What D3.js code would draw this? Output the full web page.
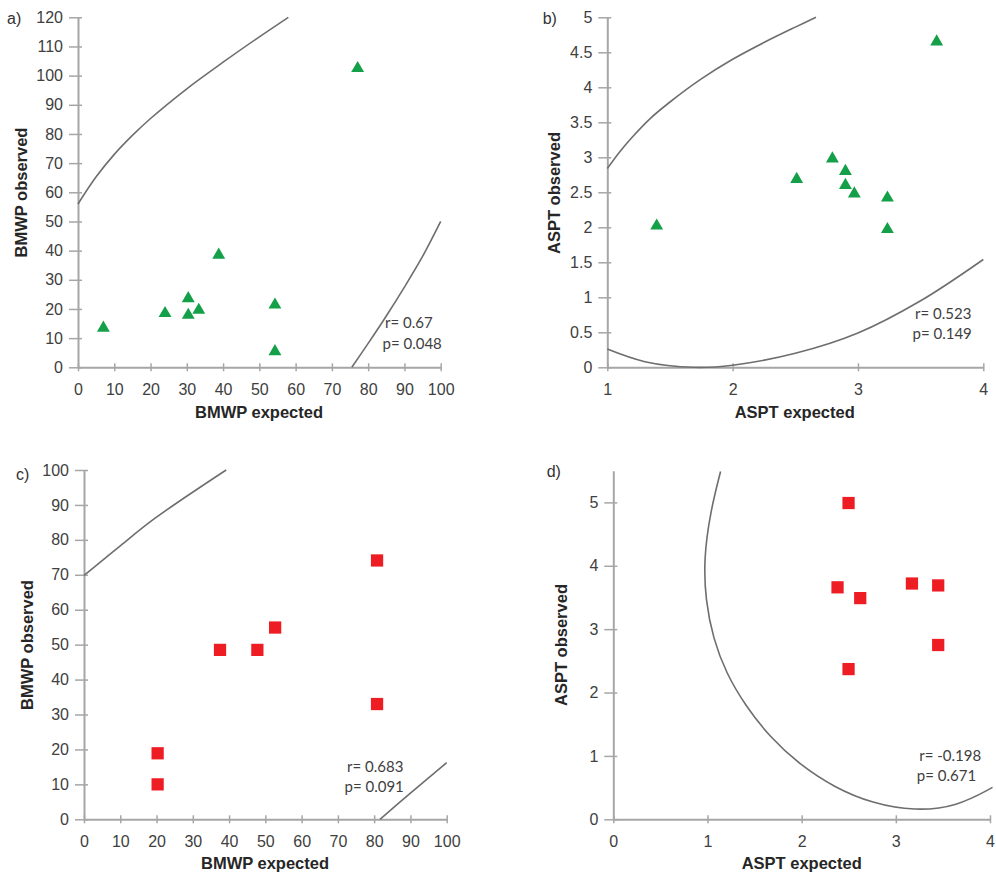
<!DOCTYPE html>
<html>
<head>
<meta charset="utf-8">
<script src="https://cdn.jsdelivr.net/npm/d3@7"></script>
<style>
  body { margin: 0; background: #fff; }
  svg { display: block; }
  .tick text { font-family: Arial, "Liberation Sans", sans-serif; font-size: 16px; fill: #404040; }
  .axis-title { font-family: Arial, "Liberation Sans", sans-serif; font-size: 16.5px; font-weight: bold; fill: #262626; }
  .panel-label { font-family: Arial, "Liberation Sans", sans-serif; font-size: 16px; fill: #333; }
  .stat { font-family: Lato, "Open Sans", sans-serif; font-size: 15px; fill: #404040; }
</style>
</head>
<body>
<div id="chart"></div>
<script>
// Data
// a) BMWP, triangles
const bmwpExpA = [7, 24, 30.4, 30.4, 33.3, 38.8, 54.3, 54.3, 77.1];
const bmwpObsA = [13.5, 18.5, 23.6, 17.9, 19.6, 38.5, 21.4, 5.4, 102.5];
const ellipseAUpper = [[0, 56], [5, 65.3], [10, 73], [15, 79.5], [20, 85.3], [30, 95.5], [40, 104.6], [50, 113.3], [58, 120]];
const ellipseALower = [[75.5, 0], [80, 8.2], [85, 17.6], [90, 27.5], [95, 38], [100, 50]];
const statsA = ["r= 0.67", "p= 0.048"];

// b) ASPT, triangles
const asptExpB = [1.394, 2.511, 2.796, 2.90, 2.90, 2.971, 3.235, 3.235, 3.628];
const asptObsB = [2.02, 2.686, 2.98, 2.80, 2.60, 2.48, 2.42, 1.97, 4.65];
const ellipseBUpper = [[1, 2.84], [1.1, 3.08], [1.2, 3.29], [1.34, 3.55], [1.5, 3.79], [1.75, 4.12],
                       [2.0, 4.40], [2.25, 4.64], [2.5, 4.86], [2.665, 5]];
const ellipseBLower = [[1, 0.26], [1.3, 0.08], [1.69, 0], [2.0, 0.03], [2.5, 0.2], [3.0, 0.49], [3.5, 0.95], [4.0, 1.54]];
const statsB = ["r= 0.523", "p= 0.149"];

// c) BMWP, squares
const bmwpExpC = [20.3, 20.3, 37.5, 47.8, 52.7, 80.8, 80.8];
const bmwpObsC = [18.9, 10.0, 48.5, 48.5, 54.9, 74.1, 33.0];
const ellipseCUpper = [[0, 69.8], [10, 78.3], [19.6, 86.2], [39.2, 100]];
const ellipseCLower = [[81.6, 0], [90, 7.5], [100, 16.2]];
const statsC = ["r= 0.683", "p= 0.091"];

// d) ASPT, squares
const asptExpD = [2.498, 2.381, 2.622, 3.171, 3.45, 3.45, 2.498];
const asptObsD = [4.99, 3.66, 3.49, 3.72, 3.69, 2.75, 2.37];
const ellipseD = [[1.139, 5.487], [1.03, 4.85], [0.96, 4.1], [0.98, 3.45], [1.06, 2.85],
                  [1.2, 2.3], [1.4, 1.8], [1.66, 1.3], [1.98, 0.86], [2.35, 0.5],
                  [2.75, 0.25], [3.2, 0.13], [3.65, 0.2], [4.027, 0.503]];
const statsD = ["r= -0.198", "p= 0.671"];

const tick10to100 = d3.range(0, 101, 10);
const tick10to120 = d3.range(0, 121, 10);
const tickHalfTo5 = d3.range(0, 5.01, 0.5);

const width = 996, height = 877;
const green = "#14a048", red = "#ee1d23";

const svg = d3.select("#chart").append("svg")
    .attr("width", width)
    .attr("height", height);

function drawPanel(p) {
    const x = d3.scaleLinear().domain(p.xDomain).range(p.xRange);
    const y = d3.scaleLinear().domain(p.yDomain).range(p.yRange);
    const g = svg.append("g");

    // y axis, ticks crossing the line
    const yAxis = g.append("g")
        .attr("transform", `translate(${p.xRange[0]},0)`)
        .call(d3.axisLeft(y).tickValues(p.yTicks).tickSizeInner(9).tickSizeOuter(0)
            .tickPadding(6).tickFormat(d3.format("~g")));
    yAxis.selectAll(".tick line").attr("x1", 4);

    const xAxis = g.append("g")
        .attr("transform", `translate(0,${p.yRange[0]})`)
        .call(d3.axisBottom(x).tickValues(p.xTicks).tickSizeInner(4).tickSizeOuter(0)
            .tickPadding(12).tickFormat(d3.format("~g")));
    xAxis.selectAll(".tick line").attr("y1", -4);

    g.selectAll(".domain").attr("stroke", "#a6a6a6").attr("stroke-width", 2);
    g.selectAll(".tick line").attr("stroke", "#a6a6a6").attr("stroke-width", 1.5);

    // ellipse arcs
    const line = d3.line().x(d => x(d[0])).y(d => y(d[1])).curve(p.curveType);
    p.curves.forEach(c => {
        g.append("path")
            .attr("d", line(c))
            .attr("fill", "none")
            .attr("stroke", "#6e6e6e")
            .attr("stroke-width", 1.6);
    });

    // points
    const sym = d3.symbol().type(p.symbol).size(p.symbolSize);
    g.selectAll(".pt")
        .data(p.xs.map((v, i) => [v, p.ys[i]]))
        .join("path")
        .attr("class", "pt")
        .attr("transform", d => `translate(${x(d[0])},${y(d[1])})`)
        .attr("d", sym)
        .attr("fill", p.color);

    // titles
    g.append("text")
        .attr("class", "axis-title")
        .attr("text-anchor", "middle")
        .attr("x", p.xTitlePos[0])
        .attr("y", p.xTitlePos[1])
        .text(p.xTitle);
    g.append("text")
        .attr("class", "axis-title")
        .attr("text-anchor", "middle")
        .attr("transform", `translate(${p.yTitlePos[0]},${p.yTitlePos[1]}) rotate(-90)`)
        .text(p.yTitle);
    g.append("text")
        .attr("class", "panel-label")
        .attr("x", p.labelPos[0])
        .attr("y", p.labelPos[1])
        .text(p.label);

    g.selectAll(".stat")
        .data(p.stats)
        .join("text")
        .attr("class", "stat")
        .attr("x", (d, i) => p.statPos[0] - i * 2.5)
        .attr("y", (d, i) => p.statPos[1] + i * 20.5)
        .text(d => d);
}

const smooth = d3.curveCatmullRom.alpha(0.5);

drawPanel({
    label: "a)", labelPos: [7, 24],
    xDomain: [0, 100], xRange: [78, 440.7],
    yDomain: [0, 120], yRange: [367.3, 17.3],
    xTicks: tick10to100, yTicks: tick10to120,
    xs: bmwpExpA, ys: bmwpObsA,
    curves: [ellipseAUpper, ellipseALower], curveType: smooth,
    symbol: d3.symbolTriangle, symbolSize: 72, color: green,
    xTitle: "BMWP expected", xTitlePos: [259, 418],
    yTitle: "BMWP observed", yTitlePos: [27, 192.5],
    stats: statsA, statPos: [385, 328]
});

drawPanel({
    label: "b)", labelPos: [542.7, 24],
    xDomain: [1, 4], xRange: [607.3, 983.3],
    yDomain: [0, 5], yRange: [367.3, 17.3],
    xTicks: [1, 2, 3, 4], yTicks: tickHalfTo5,
    xs: asptExpB, ys: asptObsB,
    curves: [ellipseBUpper, ellipseBLower], curveType: smooth,
    symbol: d3.symbolTriangle, symbolSize: 72, color: green,
    xTitle: "ASPT expected", xTitlePos: [794.7, 418],
    yTitle: "ASPT observed", yTitlePos: [560, 193],
    stats: statsB, statPos: [915, 318.5]
});

drawPanel({
    label: "c)", labelPos: [16, 480],
    xDomain: [0, 100], xRange: [84, 446.7],
    yDomain: [0, 100], yRange: [819.3, 470],
    xTicks: tick10to100, yTicks: tick10to100,
    xs: bmwpExpC, ys: bmwpObsC,
    curves: [ellipseCUpper, ellipseCLower], curveType: smooth,
    symbol: d3.symbolSquare, symbolSize: 150, color: red,
    xTitle: "BMWP expected", xTitlePos: [265, 869],
    yTitle: "BMWP observed", yTitlePos: [33, 645],
    stats: statsC, statPos: [347, 771.5]
});

drawPanel({
    label: "d)", labelPos: [546.7, 476.7],
    xDomain: [0, 4], xRange: [613.3, 990],
    yDomain: [0, 5.5], yRange: [819.3, 470.7],
    xTicks: [0, 1, 2, 3, 4], yTicks: [0, 1, 2, 3, 4, 5],
    xs: asptExpD, ys: asptObsD,
    curves: [ellipseD], curveType: d3.curveBasis,
    symbol: d3.symbolSquare, symbolSize: 150, color: red,
    xTitle: "ASPT expected", xTitlePos: [801.7, 869],
    yTitle: "ASPT observed", yTitlePos: [567, 645],
    stats: statsD, statPos: [919.3, 760.5]
});
</script>
</body>
</html>
